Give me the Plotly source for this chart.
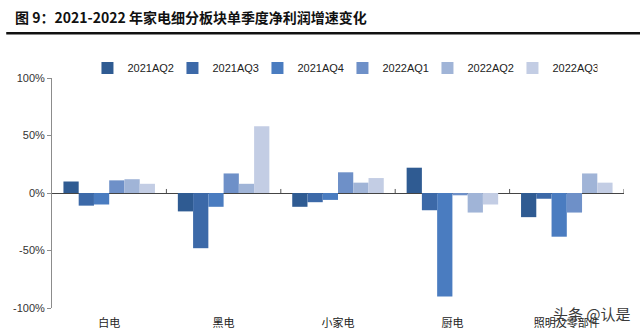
import plotly.graph_objects as go

categories = ["白电", "黑电", "小家电", "厨电", "照明及零部件"]
series_names = ["2021AQ2", "2021AQ3", "2021AQ4", "2022AQ1", "2022AQ2", "2022AQ3"]
q2_2021 = [10, -16, -12, 22, -21]
q3_2021 = [-11, -48, -8, -15, -5]
q4_2021 = [-10, -12, -6, -90, -38]
q1_2022 = [11, 17, 18, -2, -17]
q2_2022 = [12, 8, 9, -17, 17]
q3_2022 = [8, 58, 13, -10, 9]
series_values = [q2_2021, q3_2021, q4_2021, q1_2022, q2_2022, q3_2022]
colors = ["#2F5B92", "#3C69A8", "#4A7CC0", "#6E90C8", "#A0B4D7", "#C3CDE4"]
y_ticks = [-100, -50, 0, 50, 100]
y_tick_labels = ["-100%", "-50%", "0%", "50%", "100%"]

fig = go.Figure()
for name, vals, col in zip(series_names, series_values, colors):
    fig.add_trace(go.Bar(x=categories, y=vals, name=name, marker_color=col,
                         marker_line_width=0))

# short tick marks along the zero line between categories
shapes = []
for i in range(len(categories)):
    shapes.append(dict(type="line", xref="x", yref="y", x0=i + 0.5, x1=i + 0.5,
                       y0=0, y1=3.5, line=dict(color="#555555", width=1)))
# heavy rule under the title
shapes.append(dict(type="line", xref="paper", yref="paper", x0=-0.08, x1=1.03,
                   y0=1.195, y1=1.195, line=dict(color="#111111", width=2.5)))

fig.update_layout(
    width=640, height=334,
    margin=dict(l=52, r=16, t=78, b=26),
    paper_bgcolor="white", plot_bgcolor="white",
    barmode="group", bargap=0.2, bargroupgap=0,
    font=dict(family="Liberation Sans, Arial, sans-serif", color="#333333", size=11),
    showlegend=True,
    legend=dict(orientation="h", x=0.062, xanchor="left", y=1.043, yanchor="middle",
                itemwidth=30, entrywidth=40, entrywidthmode="pixels",
                font=dict(size=11, color="#222222"), traceorder="normal",
                bgcolor="rgba(0,0,0,0)"),
    xaxis=dict(range=[-0.5, 4.5], showline=False, ticks="", showgrid=False,
               ticklabelstandoff=7, automargin=False,
               tickfont=dict(family="Noto Sans CJK SC", size=11, color="#222222"),
               fixedrange=True),
    yaxis=dict(range=[-100, 100], tickmode="array", tickvals=y_ticks,
               ticktext=y_tick_labels, showgrid=False, automargin=False,
               showline=True, linecolor="#8c8c8c", linewidth=1, ticks="outside",
               ticklen=4, tickcolor="#8c8c8c", zeroline=True, zerolinecolor="#444444",
               zerolinewidth=1, tickfont=dict(size=11, color="#333333")),
    shapes=shapes,
    annotations=[
        dict(text="图 9：2021-2022 年家电细分板块单季度净利润增速变化", xref="paper", yref="paper",
             x=-0.068, y=1.265, xanchor="left", yanchor="middle", showarrow=False,
             font=dict(family="Noto Sans CJK SC", size=14, color="#111111", weight="bold")),
        dict(text="头条 @认是", xref="paper", yref="paper", x=1.015, y=-0.022,
             xanchor="right", yanchor="middle", showarrow=False,
             font=dict(family="Noto Sans CJK SC", size=15, color="#3a3a3a")),
    ],
)

fig.write_html("out.html")
